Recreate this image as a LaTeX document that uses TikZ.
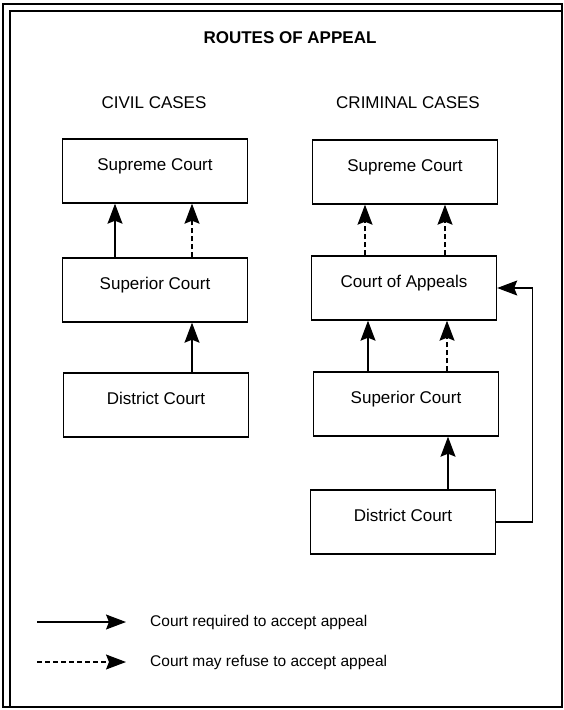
\documentclass[tikz,border=0pt]{standalone}
\usepackage{fontspec}
\setmainfont{Liberation Sans}
\usetikzlibrary{arrows.meta, positioning}
\tikzset{
  % caixa de tribunal (texto na parte de cima)
  court/.style={rectangle, draw, line width=1.4pt, minimum width=185pt, minimum height=64pt,
                inner sep=0pt, text height=31pt, text depth=33pt,
                font=\fontsize{17}{20}\selectfont},
  req/.style={-{Stealth[length=20pt, width=15pt, inset=3pt]}, line width=1.1pt},
  opt/.style={req, dash pattern=on 5pt off 3pt},
  hd/.style={inner sep=0pt, font=\fontsize{17}{20}\selectfont},
  key/.style={inner sep=0pt, anchor=west, font=\fontsize{15.5}{18}\selectfont}
}
\begin{document}
\begin{tikzpicture}[x=1pt, y=-1pt]
    \useasboundingbox (0,0) rectangle (564,710);
    % moldura
    \draw[line width=1.6pt] (3,4) rectangle (562,707);
    \draw[line width=1.2pt] (10,707) -- (10,11) -- (562,11);

    \node[hd, font=\bfseries\fontsize{17}{20}\selectfont] (title) at (290,38) {ROUTES OF APPEAL};
    \node[hd] (civ) at (154,103) {CIVIL CASES};
    \node[hd] (crim) at (408,103) {CRIMINAL CASES};

    % civil
    \node[court] (civsc) at (155,171) {Supreme Court};
    \node[court] (civsup) at (155,290) {Superior Court};
    \node[court] (civdist) at (156,405) {District Court};
    \draw[req] ([xshift=-40pt]civsup.north) -- ([xshift=-40pt]civsup.north |- civsc.south);
    \draw[opt] ([xshift=37pt]civsup.north) -- ([xshift=37pt]civsup.north |- civsc.south);
    \draw[req] ([xshift=37pt]civsup.south |- civdist.north) -- ([xshift=37pt]civsup.south);

    % criminal
    \node[court] (crimsc) at (405,172) {Supreme Court};
    \node[court] (appeals) at (404,288) {Court of Appeals};
    \node[court] (crimsup) at (406,404) {Superior Court};
    \node[court] (crimdist) at (403,522) {District Court};
    \draw[opt] ([xshift=-39pt]appeals.north) -- ([xshift=-39pt]appeals.north |- crimsc.south);
    \draw[opt] ([xshift=41pt]appeals.north) -- ([xshift=41pt]appeals.north |- crimsc.south);
    \draw[req] ([xshift=-38pt]crimsup.north) -- ([xshift=-38pt]crimsup.north |- appeals.south);
    \draw[opt] ([xshift=41pt]crimsup.north) -- ([xshift=41pt]crimsup.north |- appeals.south);
    \draw[req] ([xshift=42pt]crimsup.south |- crimdist.north) -- ([xshift=42pt]crimsup.south);
    \draw[req] (crimdist.east) -- ++(36,0) |- (appeals.east);

    % legenda
    \node[key] (ktxt1) at (150,622) {Court required to accept appeal};
    \node[key] (ktxt2) at (150,662) {Court may refuse to accept appeal};
    \coordinate (k1) at (37,622);
    \coordinate (k2) at (37,662);
    \draw[req] (k1) -- ([xshift=-24pt]ktxt1.west);
    \draw[opt] (k2) -- ([xshift=-24pt]ktxt2.west);
\end{tikzpicture}
\end{document}
